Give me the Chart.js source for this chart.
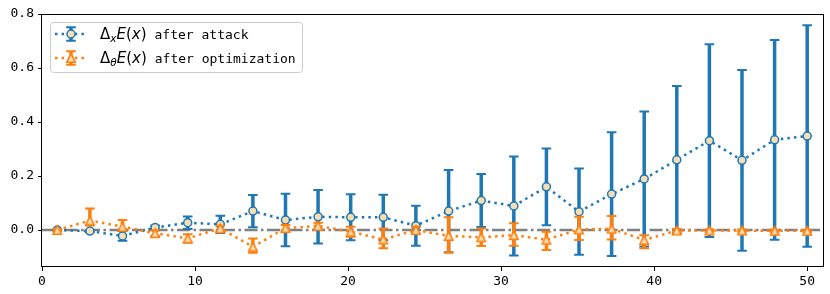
<!DOCTYPE html>
<html>
<head>
<meta charset="utf-8">
<script src="https://cdn.jsdelivr.net/npm/chart.js@4/dist/chart.umd.min.js"></script>
<style>
  html, body { margin: 0; padding: 0; background: #fff; }
  #c { display: block; }
</style>
</head>
<body>
<canvas id="c" width="830" height="294"></canvas>
<script>
// x positions of the samples
const xs = [1, 3.13, 5.26, 7.39, 9.52, 11.65, 13.78, 15.91, 18.04, 20.17, 22.3, 24.43,
  26.57, 28.7, 30.83, 32.96, 35.09, 37.22, 39.35, 41.48, 43.61, 45.74, 47.87, 50];

// Δx E(x) after attack
const attackMean = [0.0, -0.004, -0.022, 0.009, 0.027, 0.021, 0.070, 0.037, 0.049, 0.047, 0.047, 0.016,
  0.070, 0.109, 0.089, 0.160, 0.068, 0.133, 0.189, 0.260, 0.331, 0.258, 0.334, 0.348];
const attackErr = [0.003, 0.004, 0.018, 0.008, 0.023, 0.032, 0.060, 0.097, 0.099, 0.085, 0.084, 0.074,
  0.152, 0.098, 0.183, 0.142, 0.160, 0.229, 0.250, 0.273, 0.357, 0.335, 0.370, 0.410];

// Δθ E(x) after optimization
const optMean = [0.0, 0.035, 0.012, -0.012, -0.031, 0.006, -0.062, 0.007, 0.015, -0.006, -0.035, 0.0,
  -0.022, -0.027, -0.019, -0.036, 0.002, 0.005, -0.037, -0.002, -0.002, -0.002, -0.003, -0.003];
const optErrHigh = [0.003, 0.045, 0.025, 0.010, 0.015, 0.010, 0.031, 0.012, 0.012, 0.018, 0.041, 0.012,
  0.069, 0.033, 0.044, 0.030, 0.047, 0.047, 0.018, 0.006, 0.004, 0.004, 0.004, 0.004];
const optErrLow = [0.003, 0.018, 0.010, 0.010, 0.016, 0.010, 0.022, 0.012, 0.012, 0.019, 0.033, 0.012,
  0.062, 0.032, 0.039, 0.038, 0.039, 0.040, 0.031, 0.006, 0.004, 0.004, 0.004, 0.004];

const xTicks = [0, 10, 20, 30, 40, 50];
const yTicks = [0, 0.2, 0.4, 0.6, 0.8];
const yTickLabels = ['0.0', '0.2', '0.4', '0.6', '0.8'];

const BLUE = '#1f77b4';
const ORANGE = '#ff7f0e';
const WHEAT = '#f5deb3';
const MONO = '"DejaVu Sans Mono", monospace';

// matplotlib style '^' marker
function triangleMarker() {
  const c = document.createElement('canvas');
  c.width = 14; c.height = 14;
  const g = c.getContext('2d');
  const s = 4.3;
  g.beginPath();
  g.moveTo(7, 7 - s);
  g.lineTo(7 - s, 7 + s);
  g.lineTo(7 + s, 7 + s);
  g.closePath();
  g.fillStyle = WHEAT;
  g.fill();
  g.lineWidth = 1.5;
  g.strokeStyle = ORANGE;
  g.stroke();
  return c;
}
const tri = triangleMarker();

function drawErrorBar(ctx, px, top, bot, color) {
  ctx.strokeStyle = color;
  ctx.lineWidth = 3.5;
  ctx.beginPath();
  ctx.moveTo(px, top);
  ctx.lineTo(px, bot);
  ctx.stroke();
  ctx.lineWidth = 2;
  ctx.beginPath();
  ctx.moveTo(px - 4.8, top);
  ctx.lineTo(px + 4.8, top);
  ctx.moveTo(px - 4.8, bot);
  ctx.lineTo(px + 4.8, bot);
  ctx.stroke();
}

// error bars go under each series' line and markers
const errorBars = {
  id: 'errorBars',
  beforeDatasetDraw(chart, args) {
    const ds = chart.data.datasets[args.index];
    if (!ds.errHigh) return;
    const { ctx, scales: { x, y } } = chart;
    ctx.save();
    ds.data.forEach((p, i) => {
      const px = x.getPixelForValue(p.x);
      const top = y.getPixelForValue(p.y + ds.errHigh[i]);
      const bot = y.getPixelForValue(p.y - ds.errLow[i]);
      drawErrorBar(ctx, px, top, bot, ds.borderColor);
    });
    ctx.restore();
  }
};

function drawMath(ctx, x, y, sub) {
  const parts = [
    ['Δ', '15px "DejaVu Sans"', 0],
    [sub, 'italic 10.5px "DejaVu Sans"', 3],
    ['E', 'italic 15px "DejaVu Sans"', 0],
    ['(', '15px "DejaVu Sans"', 0],
    ['x', 'italic 15px "DejaVu Sans"', 0],
    [')', '15px "DejaVu Sans"', 0]
  ];
  parts.forEach(([t, f, dy]) => {
    ctx.font = f;
    ctx.fillText(t, x, y + dy);
    x += ctx.measureText(t).width;
  });
  return x;
}

const frameAndLegend = {
  id: 'frameAndLegend',
  afterDatasetsDraw(chart) {
    const { ctx, chartArea: a } = chart;
    ctx.save();
    ctx.strokeStyle = '#000';
    ctx.lineWidth = 1;
    ctx.strokeRect(Math.round(a.left) - 0.5, Math.round(a.top) + 0.5,
      Math.round(a.right - a.left) + 1, Math.round(a.bottom - a.top) - 1);
    ctx.restore();
  },
  afterDraw(chart) {
    const ctx = chart.ctx;
    ctx.save();
    ctx.beginPath();
    ctx.roundRect(50.5, 22.5, 252, 50, 3);
    ctx.fillStyle = 'rgba(255,255,255,0.8)';
    ctx.fill();
    ctx.strokeStyle = '#cccccc';
    ctx.lineWidth = 1;
    ctx.stroke();

    const rows = [
      { y: 34, color: BLUE, sub: 'x', text: 'after attack', marker: 'circle' },
      { y: 58, color: ORANGE, sub: 'θ', text: 'after optimization', marker: 'tri' }
    ];
    rows.forEach(r => {
      // dotted handle line
      ctx.strokeStyle = r.color;
      ctx.lineWidth = 2.5;
      ctx.setLineDash([2.5, 4.1]);
      ctx.beginPath();
      ctx.moveTo(55, r.y);
      ctx.lineTo(88, r.y);
      ctx.stroke();
      ctx.setLineDash([]);
      drawErrorBar(ctx, 71, r.y - 6.7, r.y + 6.7, r.color);
      if (r.marker === 'circle') {
        ctx.beginPath();
        ctx.arc(71, r.y, 4, 0, Math.PI * 2);
        ctx.fillStyle = WHEAT;
        ctx.fill();
        ctx.lineWidth = 1.5;
        ctx.strokeStyle = r.color;
        ctx.stroke();
      } else {
        ctx.drawImage(tri, 71 - 7, r.y - 7);
      }
      ctx.fillStyle = '#000';
      ctx.textBaseline = 'alphabetic';
      ctx.textAlign = 'left';
      const end = drawMath(ctx, 100, r.y + 5, r.sub);
      ctx.font = '13px ' + MONO;
      ctx.fillText(r.text, end + 8, r.y + 5);
    });
    ctx.restore();
  }
};

const data = {
  datasets: [
    {
      label: 'Δx E(x) after attack',
      data: xs.map((x, i) => ({ x: x, y: attackMean[i] })),
      errHigh: attackErr,
      errLow: attackErr,
      borderColor: BLUE,
      borderWidth: 2.5,
      borderDash: [2.5, 4.1],
      pointStyle: 'circle',
      pointRadius: 4,
      pointBorderWidth: 1.5,
      pointBackgroundColor: WHEAT,
      pointBorderColor: BLUE,
      order: 2
    },
    {
      label: 'Δθ E(x) after optimization',
      data: xs.map((x, i) => ({ x: x, y: optMean[i] })),
      errHigh: optErrHigh,
      errLow: optErrLow,
      borderColor: ORANGE,
      borderWidth: 2.5,
      borderDash: [2.5, 4.1],
      pointStyle: tri,
      pointRadius: 5,
      order: 1
    },
    {
      label: 'zero',
      data: [{ x: 0, y: 0 }, { x: 51, y: 0 }],
      borderColor: '#808080',
      borderWidth: 2.3,
      borderDash: [13, 3.5, 2.5, 3.5],
      pointRadius: 0,
      order: 3
    }
  ]
};

const config = {
  type: 'line',
  data: data,
  options: {
    responsive: false,
    animation: false,
    events: [],
    layout: { padding: { top: 14, right: 6, left: 0, bottom: 0 } },
    plugins: { legend: { display: false }, tooltip: { enabled: false } },
    scales: {
      x: {
        type: 'linear',
        min: 0,
        max: 51,
        afterBuildTicks: s => { s.ticks = xTicks.map(v => ({ value: v })); },
        afterFit: s => { s.height = 27; },
        border: { display: false },
        grid: { drawOnChartArea: false, drawTicks: true, tickLength: 4, color: '#000' },
        ticks: { color: '#000', padding: 3, maxRotation: 0, font: { family: MONO, size: 13 },
          callback: v => String(v) }
      },
      y: {
        type: 'linear',
        min: -0.137,
        max: 0.8,
        afterBuildTicks: s => { s.ticks = yTicks.map(v => ({ value: v })); },
        afterFit: s => { s.width = 42; },
        border: { display: false },
        grid: { drawOnChartArea: false, drawTicks: true, tickLength: 4, color: '#000' },
        ticks: { color: '#000', padding: 4, font: { family: MONO, size: 13 },
          callback: v => yTickLabels[yTicks.findIndex(t => Math.abs(t - v) < 1e-9)] }
      }
    }
  },
  plugins: [errorBars, frameAndLegend]
};

new Chart(document.getElementById('c').getContext('2d'), config);
</script>
</body>
</html>
